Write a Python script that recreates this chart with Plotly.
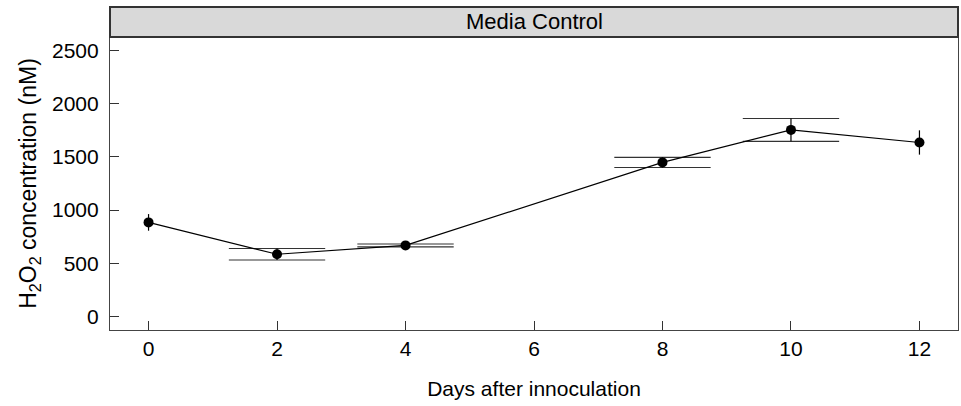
import plotly.graph_objects as go

days = [0, 2, 4, 8, 10, 12]
h2o2_mean = [885, 586, 669, 1448, 1753, 1635]
h2o2_err = [78, 54, 13, 48, 107, 114]
cap_days = [2, 4, 8, 10]
cap_halfwidth = 0.75
panel_title = "Media Control"
x_title = "Days after innoculation"
y_title = "H<sub>2</sub>O<sub>2</sub> concentration (nM)"
y_ticks = [0, 500, 1000, 1500, 2000, 2500]
x_ticks = [0, 2, 4, 6, 8, 10, 12]

FONT = "Liberation Sans, Arial, Helvetica, sans-serif"

# caps built from data
cap_x, cap_y = [], []
for d, m, e in zip(days, h2o2_mean, h2o2_err):
    if d in cap_days:
        for yv in (m - e, m + e):
            cap_x += [d - cap_halfwidth, d + cap_halfwidth, None]
            cap_y += [yv, yv, None]

fig = go.Figure()
fig.add_trace(go.Scatter(x=cap_x, y=cap_y, mode="lines",
                         line=dict(color="#333333", width=1.2),
                         hoverinfo="skip", showlegend=False))
fig.add_trace(go.Scatter(x=days, y=h2o2_mean, mode="lines+markers",
                         line=dict(color="black", width=1.2),
                         marker=dict(color="black", size=10),
                         error_y=dict(type="data", array=h2o2_err, visible=True,
                                      width=0, thickness=1.2, color="black"),
                         showlegend=False))

dom_top = 1 - 30 / 323
fig.update_layout(
    width=961, height=406,
    margin=dict(l=110, r=3, t=7, b=76),
    paper_bgcolor="white", plot_bgcolor="white",
    font=dict(family=FONT, size=21, color="black"),
    showlegend=False,
    xaxis=dict(range=[-0.6, 12.6], tickvals=x_ticks, ticks="inside", ticklen=9,
               tickcolor="#333", showgrid=False, zeroline=False, automargin=False,
               tickfont=dict(size=21),
               showline=True, mirror=True, linecolor="#444", linewidth=1.2,
               title=dict(text=x_title, font=dict(size=21), standoff=22)),
    yaxis=dict(range=[-125, 2625], tickvals=y_ticks, ticks="inside", ticklen=9,
               tickcolor="#333", showgrid=False, zeroline=False, automargin=False,
               tickfont=dict(size=21), ticklabelstandoff=6,
               domain=[0, dom_top],
               showline=True, mirror=True, linecolor="#444", linewidth=1.2,
               title=dict(text=y_title, font=dict(size=23), standoff=8)),
    shapes=[dict(type="rect", xref="paper", yref="paper", x0=0, x1=1,
                 y0=dom_top, y1=1, fillcolor="#d9d9d9",
                 line=dict(color="#333", width=2), layer="above")],
    annotations=[dict(text=panel_title, xref="paper", yref="paper", x=0.5,
                      y=(dom_top + 1) / 2, showarrow=False, yanchor="middle",
                      font=dict(size=22))],
)

fig.write_html("out.html", config={"displayModeBar": False},
               post_script="document.body.style.margin='0';document.body.style.overflow='hidden';")
